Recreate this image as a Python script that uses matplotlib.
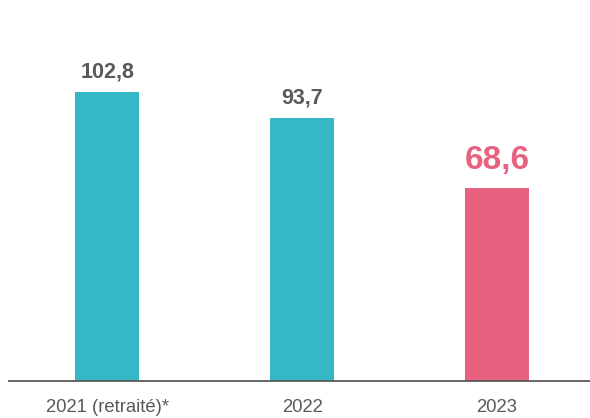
import matplotlib.pyplot as plt

categories = ["2021 (retraité)*", "2022", "2023"]
values = [102.8, 93.7, 68.6]
labels = ["102,8", "93,7", "68,6"]

teal = "#35B8C6"
pink = "#E8617F"
grey = "#595959"
colors = [teal, teal, pink]

plt.rcParams["font.family"] = ["Liberation Sans", "DejaVu Sans"]

fig = plt.figure(figsize=(5.9, 4.18), dpi=100)
ax = fig.add_axes([9 / 590, 37 / 418, 581 / 590, 381 / 418])

x = range(len(values))
ax.bar(x, values, width=0.328, color=colors)

# value labels above bars
for i, (v, lab) in enumerate(zip(values, labels)):
    if i == 2:
        ax.annotate(lab, (i, v), xytext=(0, 9), textcoords="offset points",
                    ha="center", va="bottom", fontsize=24,
                    fontweight="bold", color=pink)
    else:
        ax.annotate(lab, (i, v), xytext=(0, 7), textcoords="offset points",
                    ha="center", va="bottom", fontsize=15.5,
                    fontweight="bold", color=grey)

ax.set_xlim(-0.503, 2.477)
ax.set_ylim(0, 135.6)
ax.set_xticks(list(x))
ax.set_xticklabels(categories, fontsize=13.3, color=grey)
ax.tick_params(axis="x", length=0, pad=13)
ax.set_yticks([])
for s in ["top", "right", "left"]:
    ax.spines[s].set_visible(False)
ax.spines["bottom"].set_color(grey)
ax.spines["bottom"].set_linewidth(1.3)

fig.savefig("out.png", dpi=100)
